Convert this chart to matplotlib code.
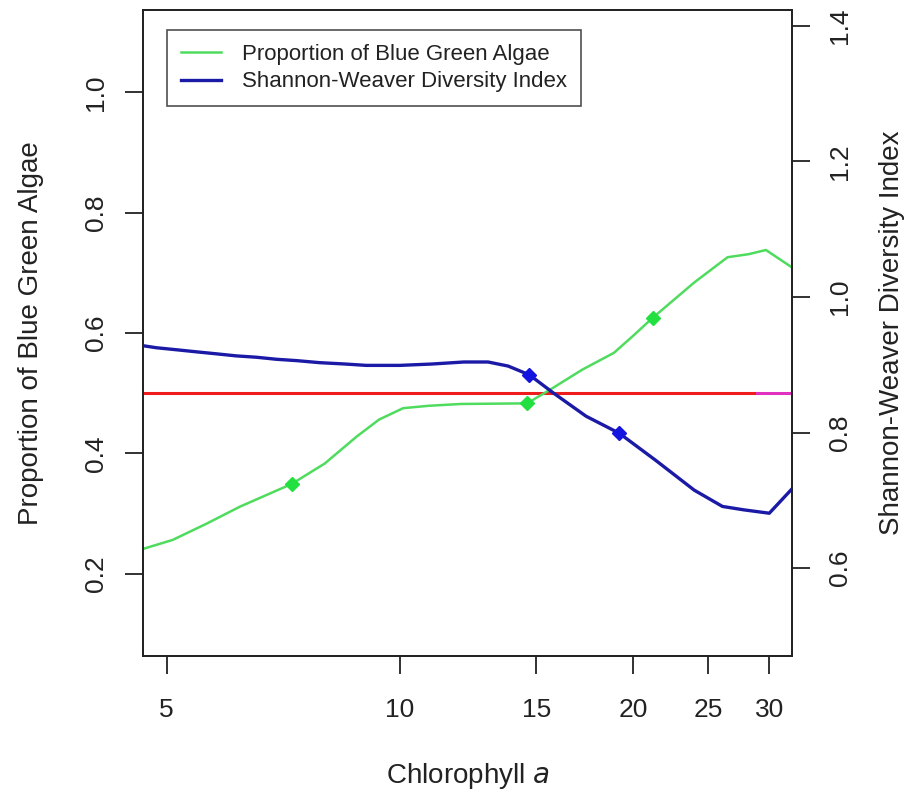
import matplotlib.pyplot as plt
from matplotlib.ticker import FixedLocator, NullLocator, FixedFormatter

plt.rcParams['font.family'] = ['Liberation Sans', 'DejaVu Sans']

# Proportion of blue green algae along chlorophyll a (left axis)
chl_bga = [4.66, 5.09, 5.63, 6.21, 7.25, 8.0, 8.8, 9.4, 10.1, 10.9, 12.0,
           14.6, 15.6, 17.2, 18.9, 20.0, 21.2, 24.0, 26.5, 28.2, 29.7, 32.1]
bga = [0.241, 0.256, 0.283, 0.311, 0.349, 0.383, 0.428, 0.456, 0.475, 0.479, 0.482,
       0.483, 0.505, 0.539, 0.567, 0.595, 0.625, 0.684, 0.726, 0.731, 0.738, 0.709]
bga_pts_x = [7.25, 14.6, 21.2]
bga_pts_y = [0.349, 0.483, 0.625]

# Shannon-Weaver diversity index (right axis)
chl_sw = [4.66, 4.85, 5.15, 5.46, 5.80, 6.15, 6.53, 6.93, 7.36, 7.88, 8.5, 9.05,
          10.0, 11.0, 12.1, 13.0, 13.8, 14.7, 15.8, 17.4, 19.2, 21.4, 24.0, 26.1,
          27.8, 30.0, 32.1]
sw = [0.928, 0.925, 0.922, 0.919, 0.916, 0.913, 0.911, 0.908, 0.906, 0.903, 0.901,
      0.899, 0.899, 0.901, 0.904, 0.904, 0.898, 0.885, 0.858, 0.824, 0.799, 0.759,
      0.715, 0.691, 0.686, 0.681, 0.717]
sw_pts_x = [14.7, 19.2]
sw_pts_y = [0.885, 0.799]

# reference line at half
half = 0.5
ref_x = [4.66, 28.9]
ref_tail_x = [28.9, 32.1]

x_ticks = [5, 10, 15, 20, 25, 30]
left_ticks = [0.2, 0.4, 0.6, 0.8, 1.0]
right_ticks = [0.6, 0.8, 1.0, 1.2, 1.4]

fig = plt.figure(figsize=(9.08, 7.89), dpi=100)
ax = fig.add_axes([0.1575, 0.1686, 0.7148, 0.8187])
ax2 = ax.twinx()

green = '#4fdc5e'
blue = '#1a1aa6'

ax.plot(ref_x, [half, half], color='#ee1c1c', lw=2.2, zorder=1)
ax.plot(ref_tail_x, [half, half], color='#e030c0', lw=2.2, zorder=1)
l1, = ax.plot(chl_bga, bga, color=green, lw=1.8, label='Proportion of Blue Green Algae')
ax.plot(bga_pts_x, bga_pts_y, 'D', color='#22e040', ms=7.5, mec='#22e040')
l2, = ax2.plot(chl_sw, sw, color=blue, lw=2.4, label='Shannon-Weaver Diversity Index')
ax2.plot(sw_pts_x, sw_pts_y, 'D', color='#1414e0', ms=7.5, mec='#1414e0')

ax.set_xscale('log')
ax.set_xlim(4.66, 32.1)
ax.set_ylim(0.063, 1.137)
ax2.set_ylim(0.4705, 1.423)

ax.xaxis.set_major_locator(FixedLocator(x_ticks))
ax.xaxis.set_major_formatter(FixedFormatter([str(t) for t in x_ticks]))
ax.xaxis.set_minor_locator(NullLocator())
ax.set_yticks(left_ticks)
ax.set_yticklabels([f'{t:.1f}' for t in left_ticks])
ax2.set_yticks(right_ticks)
ax2.set_yticklabels([f'{t:.1f}' for t in right_ticks])

for a in (ax, ax2):
    for s in a.spines.values():
        s.set_linewidth(1.3)
        s.set_color('#222222')
ax.tick_params(axis='x', length=13, width=1.3, pad=17, labelsize=19, colors='#222222')
ax.tick_params(axis='y', length=13, width=1.3, pad=12, labelsize=19, colors='#222222',
               labelrotation=90)
ax2.tick_params(axis='y', length=13, width=1.3, pad=13, labelsize=19, colors='#222222',
                labelrotation=90)
for lab in ax.get_yticklabels() + ax2.get_yticklabels():
    lab.set_va('center')

ax.set_xlabel('Chlorophyll $\\it{a}$', fontsize=20, labelpad=28, color='#222222')
ax.set_ylabel('Proportion of Blue Green Algae', fontsize=20, labelpad=29, color='#222222')
ax2.set_ylabel('Shannon-Weaver Diversity Index', fontsize=20, labelpad=19,
               color='#222222', rotation=90)

leg = ax.legend(handles=[l1, l2], loc='upper left', bbox_to_anchor=(0.037, 0.969),
                borderaxespad=0, fontsize=16, frameon=True, fancybox=False,
                handlelength=1.8, handletextpad=0.95, borderpad=0.62,
                labelspacing=0.3)
leg.get_frame().set_edgecolor('#222222')
leg.get_frame().set_linewidth(1.2)
for t in leg.get_texts():
    t.set_color('#222222')

fig.savefig('out.png', dpi=100)
